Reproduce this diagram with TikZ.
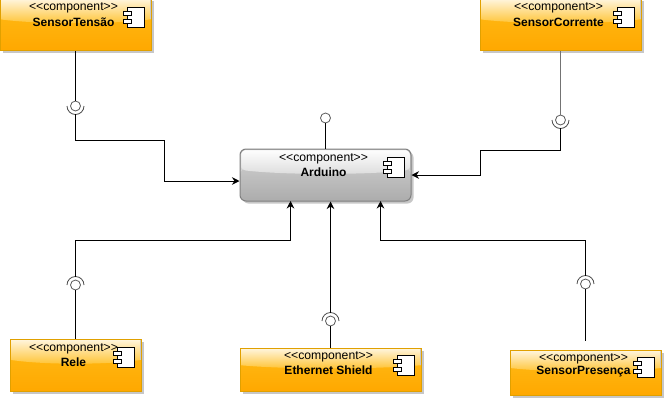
\documentclass[tikz,border=0pt]{standalone}
\usepackage{fontspec}
\setmainfont{Liberation Sans}
\usetikzlibrary{arrows.meta,shadows,calc}
\definecolor{amberlo}{HTML}{FFA800}
\definecolor{ambermid}{HTML}{FFBC18}
\definecolor{amberedge}{HTML}{E0A000}
\definecolor{glosslo}{HTML}{FFC22E}
\definecolor{glosshi}{HTML}{FFF6E0}
\definecolor{greylo}{HTML}{ACACAC}
\definecolor{greymid}{HTML}{D4D4D4}
\definecolor{greyglo}{HTML}{DCDCDC}
\newcommand{\stereo}{<{}<component>{}>}
\tikzset{
  glossbox/.style n args={5}{rectangle,draw=#5,line width=1pt,inner sep=0pt,fill=#2,
    drop shadow={shadow xshift=2.5pt,shadow yshift=-2.5pt,fill=black!22,opacity=1},
    path picture={
      \shade[top color=#2,bottom color=#1]
        ($(path picture bounding box.north west)!0.38!(path picture bounding box.south west)$) rectangle
        (path picture bounding box.south east);
      \shade[top color=#4,bottom color=#3]
        (path picture bounding box.north west) --
        (path picture bounding box.north east) --
        ($(path picture bounding box.north east)!0.40!(path picture bounding box.south east)$)
        .. controls ($(path picture bounding box.north east)!0.5!(path picture bounding box.south)$) and
           ($(path picture bounding box.north west)!0.5!(path picture bounding box.south)$) ..
        ($(path picture bounding box.north west)!0.40!(path picture bounding box.south west)$) -- cycle;
      \draw[black!22,line width=2pt]
        ($(path picture bounding box.north west)!0.40!(path picture bounding box.south west)$) --
        (path picture bounding box.north west) -- (path picture bounding box.north east) --
        ($(path picture bounding box.north east)!0.40!(path picture bounding box.south east)$);
    }},
  comp/.style={glossbox={amberlo}{ambermid}{glosslo}{glosshi}{amberedge}},
  hub/.style={glossbox={greylo}{greymid}{greyglo}{white}{black!50},rounded corners=6pt},
  ctext/.style={font=\fontsize{12.2}{14}\selectfont,inner sep=0pt,anchor=center},
  ntext/.style={font=\fontsize{12}{14}\selectfont\bfseries,inner sep=0pt,anchor=center},
  iconbody/.style={draw=black,fill=white,line width=.8pt,rectangle,inner sep=0pt,minimum width=17pt,minimum height=20pt},
  iconport/.style={draw=black,fill=white,line width=.8pt,rectangle,inner sep=0pt,minimum width=8pt,minimum height=4pt},
  ball/.style={circle,draw=black!65,fill=white,line width=.8pt,inner sep=0pt,minimum size=10pt},
  sockarc/.style={draw=black!70,line width=.8pt},
  wire/.style={draw=black,line width=.9pt},
  greywire/.style={draw=black!55,line width=1.5pt},
  arrowwire/.style={wire,-{Stealth[length=7.5pt,width=7.5pt]}}
}
\newcommand{\compicon}[2]{%
  \node[iconbody] (#1b) at (#2) {};
  \node[iconport] at ($(#2)+(-8,-4)$) {};
  \node[iconport] at ($(#2)+(-8,4)$) {};
}
\begin{document}
\begin{tikzpicture}[x=1pt,y=-1pt]
\useasboundingbox (0,0) rectangle (664,402);
% component boxes
\node[comp,minimum width=151pt,minimum height=52pt] (tensao) at (75.5,24.5) {};
\node[comp,minimum width=161pt,minimum height=52pt] (corrente) at (560.5,24.5) {};
\node[hub,minimum width=171pt,minimum height=52pt] (arduino) at (325.5,175) {};
\node[comp,minimum width=131pt,minimum height=52pt] (rele) at (75.5,365) {};
\node[comp,minimum width=181pt,minimum height=43pt] (ethernet) at (330.5,369.5) {};
\node[comp,minimum width=151pt,minimum height=45pt] (presenca) at (585.5,372.5) {};
% labels
\node[ctext] (t1) at (73.5,8) {\stereo};
\node[ntext] (t2) at (73.5,22) {SensorTensão};
\node[ctext] (c1) at (558.5,8) {\stereo};
\node[ntext] (c2) at (558.5,22) {SensorCorrente};
\node[ctext] (a1) at (323.5,158.5) {\stereo};
\node[ntext] (a2) at (323.5,172) {Arduino};
\node[ctext] (r1) at (73.5,348.5) {\stereo};
\node[ntext] (r2) at (73.5,362) {Rele};
\node[ctext] (e1) at (328.5,356.5) {\stereo};
\node[ntext] (e2) at (328.5,370) {Ethernet Shield};
\node[ctext] (p1) at (583.5,358.5) {\stereo};
\node[ntext] (p2) at (583.5,372) {SensorPresença};
% icons
\compicon{it}{135.5,17}
\compicon{ic}{625.5,17}
\compicon{ia}{395.5,167}
\compicon{ir}{125.5,357}
\compicon{ie}{405.5,365}
\compicon{ip}{645.5,367}
% interface balls
\node[ball] (bt) at (75.5,106) {};
\node[ball] (bc) at (560.5,120) {};
\node[ball] (ba) at (325.5,118) {};
\node[ball] (br) at (75.5,285) {};
\node[ball] (be) at (330.5,321) {};
\node[ball] (bp) at (585.5,284) {};
% sockets
\draw[sockarc] ($(bt)+(-8.5,0)$) arc[start angle=180,end angle=360,radius=8.5pt];
\draw[sockarc] ($(bc)+(-8.5,0)$) arc[start angle=180,end angle=360,radius=8.5pt];
\draw[sockarc] ($(br)+(-8.5,0)$) arc[start angle=180,end angle=0,radius=8.5pt];
\draw[sockarc] ($(be)+(-8.5,0)$) arc[start angle=180,end angle=0,radius=8.5pt];
\draw[sockarc] ($(bp)+(-8.5,0)$) arc[start angle=180,end angle=0,radius=8.5pt];
% free-end coordinates
\coordinate (tsock) at (75.5,114);
\coordinate (csock) at (560.5,128);
\coordinate (rsock) at (75.5,277);
\coordinate (esock) at (330.5,313);
\coordinate (psock) at (585.5,276);
\coordinate (pend) at (585.5,341);
% connectors
\draw[wire] (tensao.south) -- (bt.north);
\draw[arrowwire] (tsock) |- (164,140) |- ($(arduino.west)+(0,6)$);
\draw[greywire] (corrente.south) -- (bc.north);
\draw[arrowwire] (csock) |- (480,150) |- (arduino.east);
\draw[wire] (ba.south) -- (arduino.north);
\draw[arrowwire] (rsock) |- (290.5,240) -- (290.5,201);
\draw[arrowwire] (esock) -- (arduino.south -| esock);
\draw[arrowwire] (psock) |- (380.5,240) -- (380.5,201);
\draw[wire] (br.south) -- (rele.north);
\draw[wire] (be.south) -- (ethernet.north);
\draw[wire] (bp.south) -- (pend);
\end{tikzpicture}
\end{document}
